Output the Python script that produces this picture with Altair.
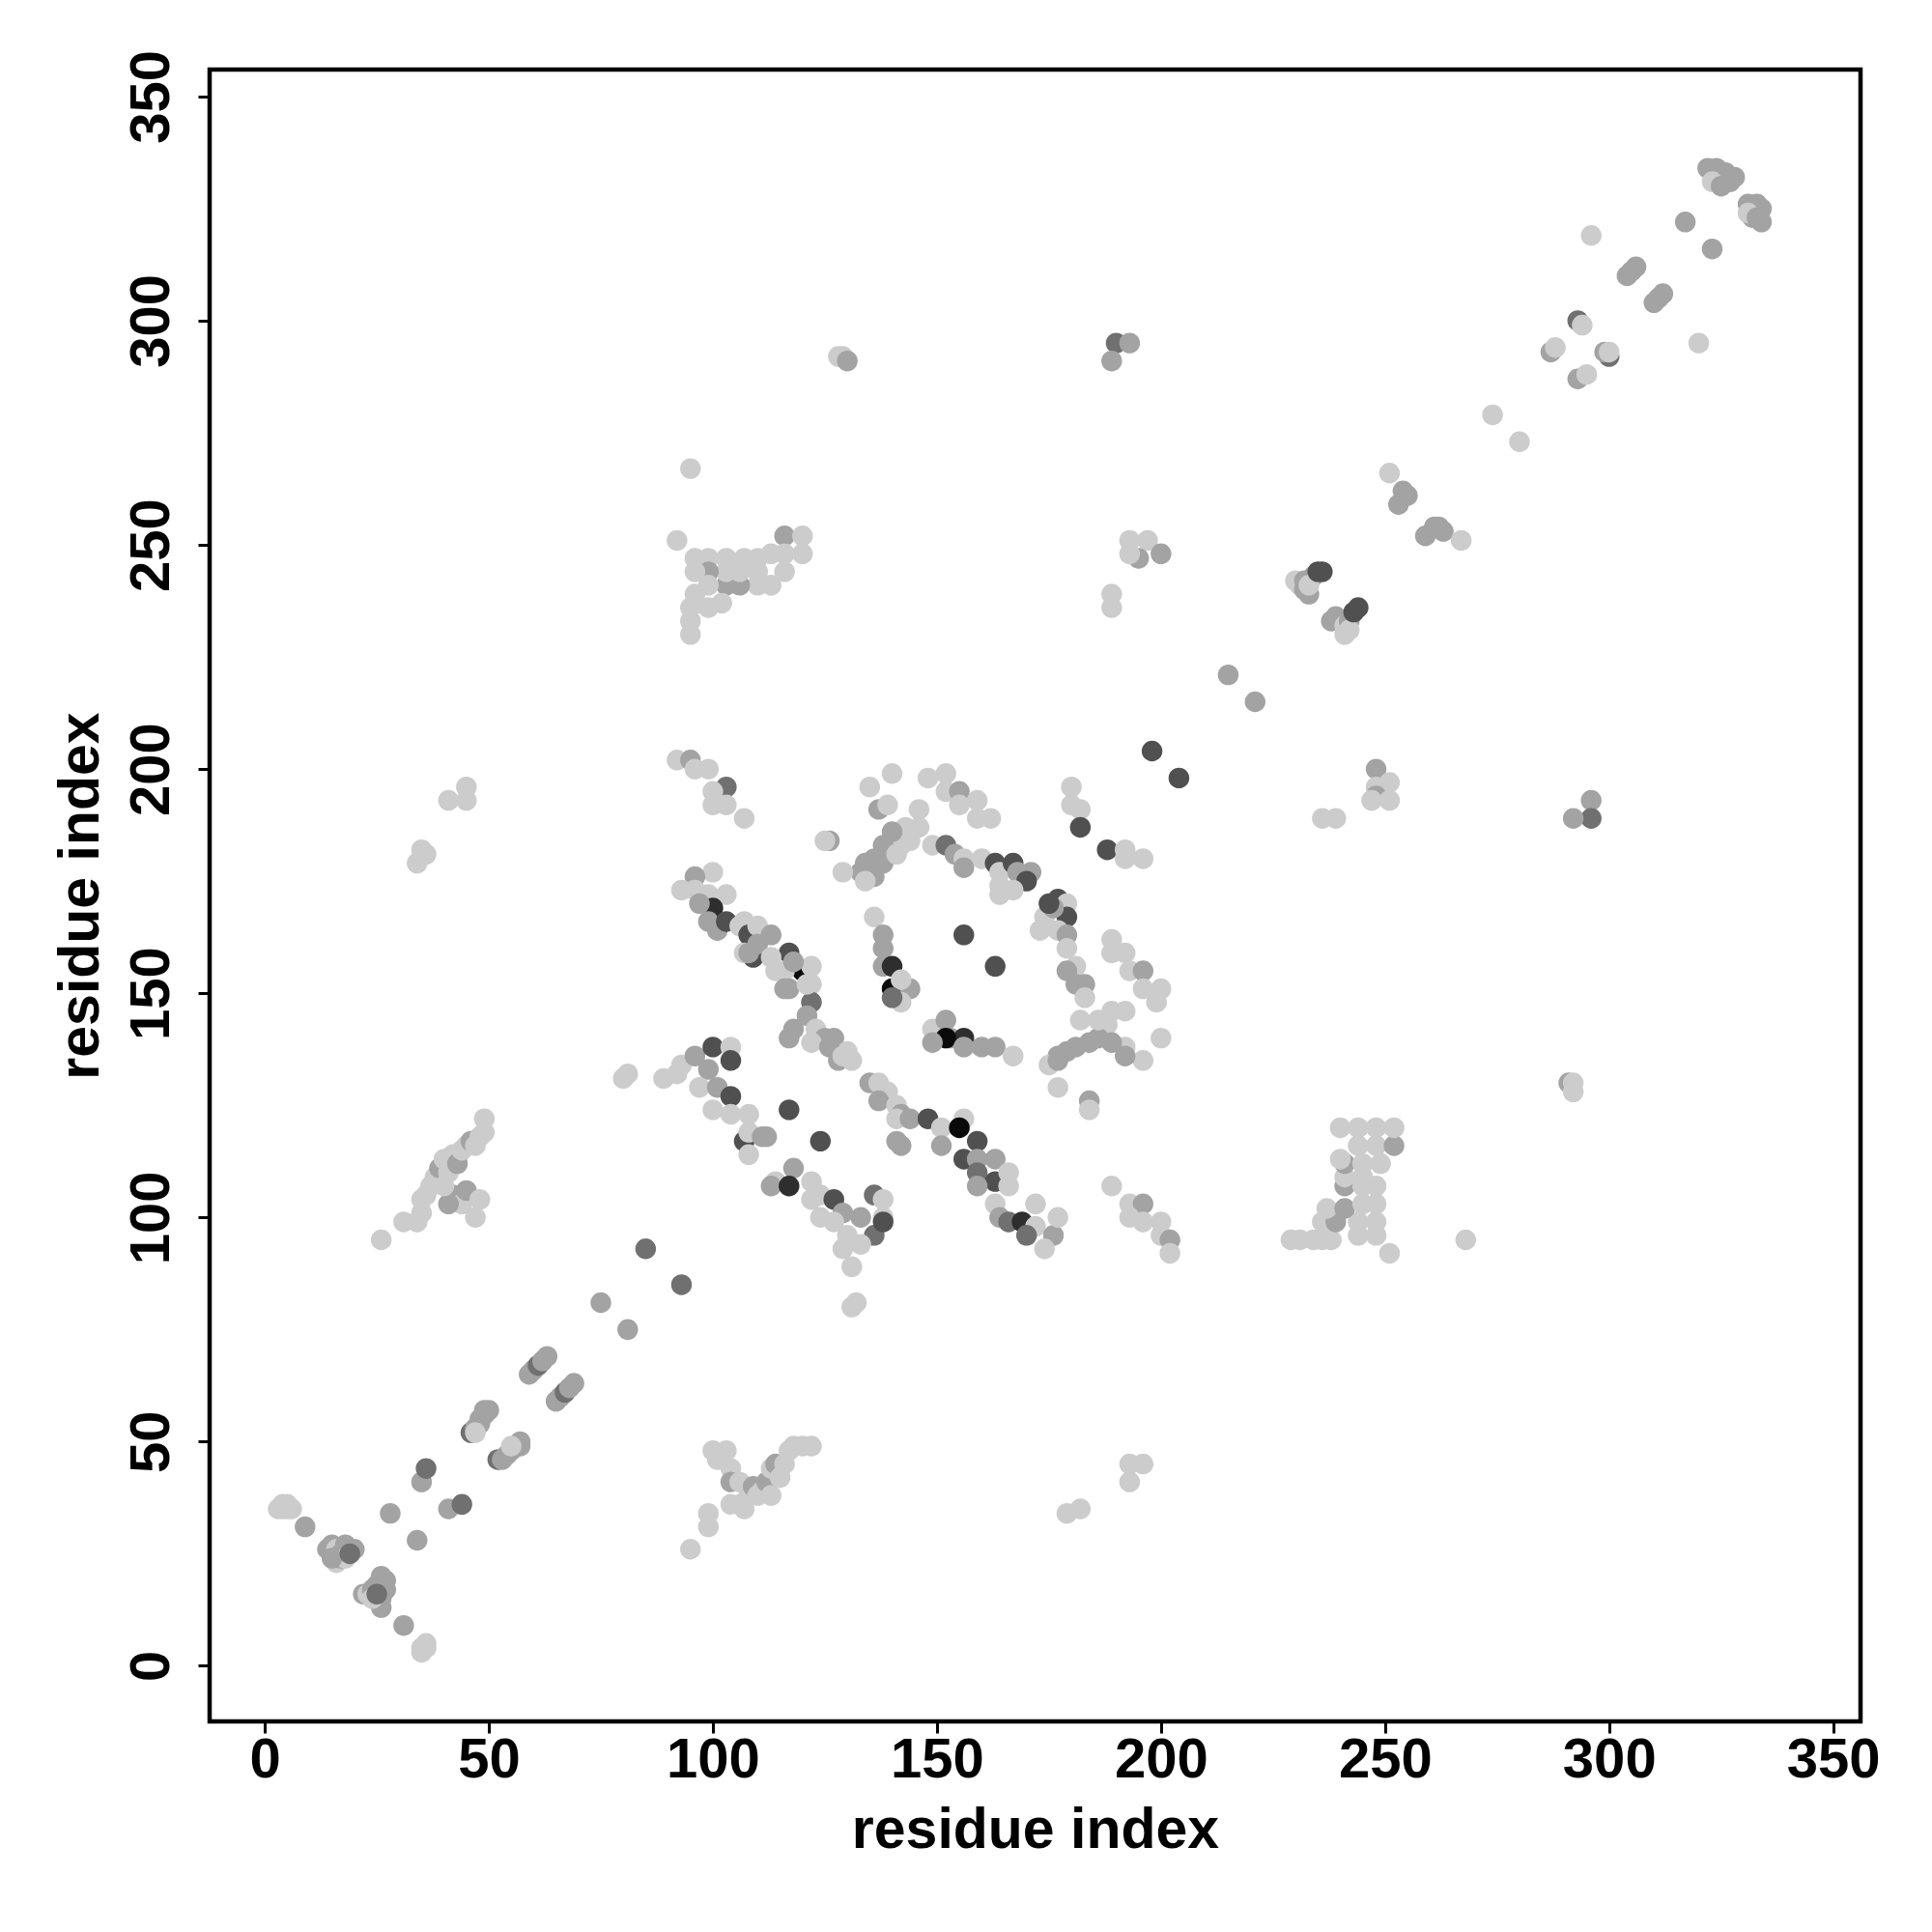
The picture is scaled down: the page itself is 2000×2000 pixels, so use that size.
import altair as alt
import pandas as pd

# (residue i, residue j, grey level 1=light .. 6=black)
diag_low = [
    (3,35,1),(4,35,1),(5,35,1),(6,35,1),(4,36,1),(5,36,1),(9,31,2),
    (14,26,2),(15,27,2),(16,26,1),(17,25,2),(18,27,2),(19,26,2),(20,26,2),(16,23,1),(17,24,2),(18,24,1),(15,24,2),(19,25,3),
    (22,16,2),(23,16,1),(24,17,2),(25,18,2),(26,20,2),(27,19,2),(27,17,2),(26,15,2),(26,13,2),(24,15,1),(25,16,3),
    (31,9,2),(35,4,1),(36,4,1),(35,3,1),(36,5,1),
    (28,34,2),(34,28,2),(35,41,2),(36,44,3),(41,35,2),(44,36,3),
    (46,52,3),(47,53,2),(48,54,2),(48,55,2),(49,56,2),(50,57,2),(49,57,2),(47,52,1),
    (52,46,3),(53,46,2),(54,47,2),(55,48,2),(56,49,2),(57,49,2),(57,50,2),(55,49,1),
    (59,65,2),(60,66,2),(61,67,3),(62,68,2),(63,69,2),
    (65,59,2),(66,60,2),(67,61,3),(68,62,2),(69,63,2),
    (75,81,2),(81,75,2),(85,93,3),(93,85,3),
]
left_mid = [
    (26,95,1),(31,99,1),(34,99,1),(35,101,1),(35,104,1),(36,105,1),(37,107,1),(38,109,1),(39,111,2),(40,113,1),
    (41,110,1),(42,114,1),(43,112,2),(44,115,1),(45,116,1),(46,117,2),(47,116,1),(48,118,1),(49,119,1),(49,122,1),
    (42,105,2),(44,103,1),(45,106,2),(47,100,1),(48,104,1),(41,103,2),(40,107,1),
    (45,196,1),(45,193,1),(41,193,1),(35,182,1),(36,181,1),(34,179,1),
]
low_block = [
    (95,26,1),(99,31,1),(99,34,1),(100,48,1),(101,46,1),(103,48,1),(104,44,1),(104,41,2),(106,41,1),(104,36,1),
    (106,36,1),(107,35,1),(108,38,1),(109,40,2),(110,38,1),(111,39,1),(112,41,2),(113,38,1),(113,44,1),(114,45,2),
    (115,42,1),(116,45,1),(117,48,1),(118,49,1),(120,49,1),(122,49,1),
    (193,45,1),(196,45,1),(193,41,1),(179,34,1),(182,35,1),(131,80,1),(132,81,1),
]
up_block = [
    (92,251,1),(95,267,1),(96,247,1),(99,247,1),(103,247,1),(107,247,1),(110,247,1),(113,248,1),(116,252,2),(120,252,1),
    (120,248,1),(116,248,1),(116,244,1),(113,241,1),(110,241,1),(106,241,2),(103,241,2),(103,244,1),(106,244,1),(99,244,2),
    (96,244,1),(99,241,1),(96,239,1),(95,236,1),(95,233,1),(95,230,1),(99,236,1),(102,237,1),(110,244,1),
    (128,292,1),(129,292,1),(130,291,2),(190,295,3),(193,295,2),(189,291,2),
    (193,251,1),(197,251,1),(200,248,2),(195,247,2),(193,248,1),(189,239,1),(189,236,1),
]
diag_high = [
    (322,334,2),(324,334,2),(326,333,2),(328,332,2),(323,331,1),(325,330,2),(327,331,2),
    (331,326,2),(333,326,2),(334,325,2),(332,323,2),(334,322,2),(331,324,1),(333,323,2),
    (317,322,2),(323,316,2),(305,311,2),(304,310,2),(306,312,2),(310,304,2),(311,305,2),(312,306,2),
    (296,319,1),(320,295,1),(293,300,3),(294,299,1),(287,293,2),(288,294,1),(300,292,3),(299,293,2),(300,293,1),
    (293,287,2),(295,288,1),
    (274,279,1),(280,273,1),(251,266,1),(254,262,2),(255,261,2),(253,259,2),(259,252,2),(262,254,2),(263,253,2),
    (261,254,2),(267,251,1),
    (230,242,1),(231,241,1),(232,240,2),(233,239,2),(234,243,2),(232,242,2),(233,241,1),(235,244,4),(236,244,4),
    (238,233,2),(239,234,2),(240,233,2),(241,232,1),(242,233,2),(241,230,1),(242,231,1),(243,235,4),(244,236,4),
    (215,221,2),(221,215,2),(198,204,4),(204,198,4),
]
right_side = [
    (248,200,2),(251,197,1),(248,196,1),(248,194,2),(247,193,1),(251,193,1),(236,189,1),(239,189,1),
    (296,193,2),(296,189,3),(292,189,2),(291,130,2),(292,128,1),(292,130,1),
    (229,95,1),(231,95,1),(234,95,1),(236,95,1),(238,95,1),(244,96,1),(248,96,1),(251,92,1),(236,99,1),(239,99,2),
    (244,99,1),(248,99,1),(237,102,1),(241,102,2),(245,103,1),(248,103,1),(241,107,2),(245,107,1),(248,107,1),
    (241,109,1),(245,109,1),(241,112,2),(245,112,1),(249,112,1),(240,113,1),(244,116,1),(248,116,1),(252,116,2),
    (240,120,1),(244,120,1),(248,120,1),(252,120,1),(268,95,1),
    (189,107,1),(193,103,1),(196,103,2),(193,100,1),(196,99,1),(200,99,1),(200,96,1),(202,95,2),(202,92,1),
]
stripe_a = [
    (92,202,1),(95,202,2),(96,200,1),(99,200,1),(103,196,3),(100,195,1),(103,192,1),(100,192,1),(107,189,1),
    (100,177,1),(96,176,2),(93,173,1),(96,173,1),(99,172,1),(103,172,1),(100,169,5),(97,170,2),(99,166,2),(101,164,2),
    (103,166,4),(106,165,1),(107,166,1),(108,163,4),(109,158,4),(107,159,1),(110,165,1),(113,163,2),(110,161,2),
    (108,159,2),(117,159,4),(113,158,1),(120,155,6),(122,156,1),(116,155,1),(114,155,1),(117,151,2),(122,152,1),
    (122,148,3),(118,157,2),(116,151,2),(121,152,1),(118,142,2),(121,145,2),(123,142,1),(125,140,2),(127,140,2),
    (130,137,1),(128,135,2),(122,139,1),(126,138,2),(117,140,2),(129,136,1),(131,135,1),
]
stripe_b = [
    (80,131,1),(81,132,1),(89,131,1),(92,132,1),(93,134,1),(96,136,2),(100,138,4),(104,138,1),(104,135,4),(99,133,2),
    (97,129,1),(101,129,2),(104,127,4),(100,124,1),(104,123,1),(108,123,1),(107,117,4),(108,119,1),(111,118,2),
    (108,114,1),(117,124,4),(124,117,4),(118,111,2),(114,108,1),(113,107,2),(117,107,5),(122,108,1),(124,105,1),
    (127,104,4),(129,101,2),(127,99,1),(130,96,1),(133,100,2),(136,105,3),(138,104,1),(138,100,1),(136,96,3),
    (133,94,1),(131,89,1),(122,104,1),(124,100,1),(129,93,1),(138,99,4),(112,118,2),
]
stripe_c = [
    (135,130,2),(137,130,1),(139,128,1),(137,126,2),(141,125,1),(142,123,2),(141,122,1),(144,122,2),(141,117,2),
    (142,116,2),(148,122,4),(151,120,1),(156,122,1),(155,120,6),(159,117,4),(156,113,4),(151,116,2),(159,113,2),
    (163,113,2),(159,110,3),(163,108,4),(166,110,1),(166,107,1),(163,103,1),(164,100,2),(166,99,3),(169,99,5),
    (172,103,1),(172,98,1),(176,96,2),(177,100,1),(174,93,1),(170,96,3),(159,107,2),
]
ring = [
    (140,199,1),(135,196,1),(148,198,1),(152,199,1),(152,195,1),(155,195,2),(155,192,1),(159,193,1),(159,189,1),
    (162,189,1),(137,191,2),(139,192,1),(146,191,1),(146,187,1),(143,187,1),(144,184,1),(142,183,1),(140,186,2),
    (138,183,2),(136,180,2),(134,179,2),(133,177,2),(136,176,2),(134,175,1),(138,179,2),(141,181,1),(129,177,1),
    (126,184,2),(125,184,1),
    (149,183,1),(152,183,3),(154,181,2),(156,180,1),(160,180,1),(156,178,2),(163,179,4),(164,177,1),(167,179,4),
    (168,177,2),(171,177,2),(170,175,4),(164,174,1),(167,173,1),(164,172,1),
    (177,171,4),(179,170,1),(179,167,4),(174,167,1),(176,169,2),(173,164,1),(177,164,1),(179,163,2),(179,160,1),
    (181,156,1),(179,155,2),(183,152,2),(181,152,2),(183,149,1),(175,170,4),
    (136,167,1),(138,163,2),(138,160,2),(138,156,2),(140,156,5),(140,151,6),(144,151,2),(142,153,1),(142,148,1),
    (140,149,3),(156,163,4),(163,156,4),
    (149,142,1),(152,144,2),(153,140,2),(156,140,5),(152,140,6),(149,139,2),(160,138,2),(163,138,2),(167,136,1),
    (156,138,2),
    (189,162,1),(189,159,1),(192,159,1),(193,155,1),(196,155,2),(196,151,1),(200,151,1),(199,148,1),(200,140,1),
    (196,135,1),(192,146,1),(189,146,1),(188,143,1),(192,138,1),(192,136,2),(189,139,2),(186,140,2),(184,139,2),
    (181,138,2),(179,137,2),(177,136,2),(175,134,1),(177,135,2),(186,144,1),(182,144,1),(177,129,1),(184,126,2),
    (184,124,1),
    (180,196,1),(180,192,1),(182,191,1),(182,187,4),(188,182,4),(192,182,1),(192,180,1),(196,180,1),
]

grey_levels = [1, 2, 3, 4, 5, 6]
grey_colors = ["#cccccc", "#a3a3a3", "#707070", "#505050", "#2e2e2e", "#0a0a0a"]
tick_values = [0, 50, 100, 150, 200, 250, 300, 350]

rows = []
for group in [diag_low, left_mid, low_block, up_block, diag_high, right_side,
              stripe_a, stripe_b, stripe_c, ring]:
    for i, j, lv in group:
        rows.append({"i": i, "j": j, "level": lv})
df = pd.DataFrame(rows)

font = "Liberation Sans"
W, H = 1709, 1710

x_axis = alt.Axis(values=tick_values, grid=False, domain=False, tickColor="black", tickWidth=3,
                  tickSize=12, labelFont=font, labelFontSize=58, labelFontWeight="bold",
                  labelColor="black", labelBaseline="alphabetic", labelPadding=45,
                  title="residue index", titleFont=font, titleFontSize=59, titleFontWeight="bold",
                  titleColor="black", titleBaseline="alphabetic", titleAlign="center",
                  titleX=W / 2, titleY=130)
y_axis = alt.Axis(values=tick_values, grid=False, domain=False, tickColor="black", tickWidth=3,
                  tickSize=12, labelFont=font, labelFontSize=58, labelFontWeight="bold",
                  labelColor="black", labelAngle=270, labelAlign="center", labelBaseline="alphabetic",
                  labelPadding=31,
                  title="residue index", titleFont=font, titleFontSize=59, titleFontWeight="bold",
                  titleColor="black", titleBaseline="alphabetic", titleAlign="center", titleAngle=270,
                  titleX=-116, titleY=H / 2)

chart = alt.Chart(df).mark_circle(size=460, opacity=1).encode(
    x=alt.X("i:Q", scale=alt.Scale(domain=[-12.3, 356.1], nice=False, zero=False), axis=x_axis),
    y=alt.Y("j:Q", scale=alt.Scale(domain=[-12.4, 356.0], nice=False, zero=False), axis=y_axis),
    color=alt.Color("level:O", scale=alt.Scale(domain=grey_levels, range=grey_colors), legend=None),
).properties(
    width=W, height=H,
    background="white",
    autosize=alt.AutoSizeParams(type="none"),
    padding={"left": 209, "top": 64, "right": 60, "bottom": 200},
).configure_view(stroke="black", strokeWidth=4.5, fill="white")

chart.save("out.html", embed_options={"renderer": "svg", "actions": False})
